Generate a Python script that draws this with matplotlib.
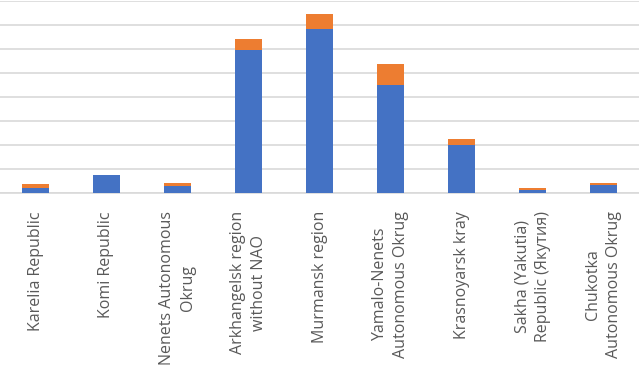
import numpy as np
import matplotlib.pyplot as plt

regions = ['Karelia Republic', 'Komi Republic', 'Nenets Autonomous\nOkrug',
           'Arkhangelsk region\nwithout NAO', 'Murmansk region',
           'Yamalo-Nenets\nAutonomous Okrug', 'Krasnoyarsk kray',
           'Sakha (Yakutia)\nRepublic (Якутия)', 'Chukotka\nAutonomous Okrug']
blue_vals = [0.21, 0.73, 0.28, 5.95, 6.85, 4.48, 2.02, 0.12, 0.32]
orange_vals = [0.16, 0.03, 0.13, 0.45, 0.59, 0.89, 0.21, 0.10, 0.11]

fig = plt.figure(figsize=(6.39, 3.68), dpi=100)
ax = fig.add_axes([0, 1 - 193 / 368, 1, 192 / 368])

x = np.arange(len(regions))
ax.bar(x, blue_vals, width=0.39, color='#4472C4', zorder=3)
ax.bar(x, orange_vals, width=0.39, bottom=blue_vals, color='#ED7D31', zorder=3)

ax.set_xlim(-0.5, len(regions) - 0.5)
ax.set_ylim(0, 8)
ax.set_yticks(np.arange(0, 9, 1))
ax.yaxis.grid(True, color='#D9D9D9', linewidth=1.2, zorder=0)
ax.tick_params(axis='y', left=False, labelleft=False)
ax.tick_params(axis='x', length=0, pad=13)
for s in ['top', 'right', 'left']:
    ax.spines[s].set_visible(False)
ax.spines['bottom'].set_color('#D9D9D9')
ax.spines['bottom'].set_linewidth(1.2)

ax.set_xticks(x)
ax.set_xticklabels(regions, rotation=90, ha='center', va='top',
                   multialignment='center', fontsize=11.5, color='#595959',
                   family='Open Sans', linespacing=1.4)

fig.savefig('out.png', dpi=100)
